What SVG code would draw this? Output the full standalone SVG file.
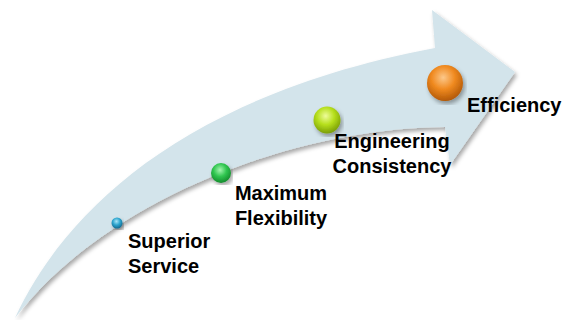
<svg xmlns="http://www.w3.org/2000/svg" width="571" height="320" viewBox="0 0 571 320">
<defs>
<filter id="shadow" x="-10%" y="-10%" width="120%" height="120%">
<feDropShadow dx="2" dy="3" stdDeviation="2" flood-color="#000" flood-opacity="0.35"/>
</filter>
<radialGradient id="gBlue" cx="45%" cy="35%" r="65%">
<stop offset="0" stop-color="#a8e4f6"/>
<stop offset="0.5" stop-color="#2ea6cf"/>
<stop offset="1" stop-color="#10688f"/>
</radialGradient>
<radialGradient id="gGreen" cx="45%" cy="35%" r="65%">
<stop offset="0" stop-color="#a6f5b0"/>
<stop offset="0.5" stop-color="#30c650"/>
<stop offset="1" stop-color="#148a2c"/>
</radialGradient>
<radialGradient id="gLime" cx="45%" cy="35%" r="65%">
<stop offset="0" stop-color="#eefc9a"/>
<stop offset="0.5" stop-color="#b6df1c"/>
<stop offset="1" stop-color="#7a9e06"/>
</radialGradient>
<radialGradient id="gOrange" cx="45%" cy="35%" r="65%">
<stop offset="0" stop-color="#fcc88a"/>
<stop offset="0.5" stop-color="#f08a20"/>
<stop offset="1" stop-color="#b25806"/>
</radialGradient>
</defs>
<style>
.lbl{font-family:"Liberation Sans",Arial,sans-serif;font-weight:bold;font-size:20px;fill:#000}
.mid{text-anchor:middle}
.ball{filter:url(#shadow)}
</style>
<g id="connectors">
<path id="arrow" d="M15,318 C65,210 185,95 435,48 L432,10 L515,72 L450,165 L445,127 C300,128 110,195 15,318 Z" fill="#d3e4eb" filter="url(#shadow)"/>
</g>
<g id="node-superior-service">
<circle class="ball" cx="117" cy="223" r="5.5" fill="url(#gBlue)"/>
<text class="lbl" x="128" y="248">Superior</text>
<text class="lbl" x="128" y="273">Service</text>
</g>
<g id="node-maximum-flexibility">
<circle class="ball" cx="221" cy="173" r="10" fill="url(#gGreen)"/>
<text class="lbl mid" x="281" y="200">Maximum</text>
<text class="lbl mid" x="281" y="225">Flexibility</text>
</g>
<g id="node-engineering-consistency">
<circle class="ball" cx="327" cy="120" r="13.5" fill="url(#gLime)"/>
<text class="lbl mid" x="392" y="148">Engineering</text>
<text class="lbl mid" x="392" y="173">Consistency</text>
</g>
<g id="node-efficiency">
<circle class="ball" cx="445" cy="83" r="18" fill="url(#gOrange)"/>
<text class="lbl" x="467" y="112">Efficiency</text>
</g>
</svg>
